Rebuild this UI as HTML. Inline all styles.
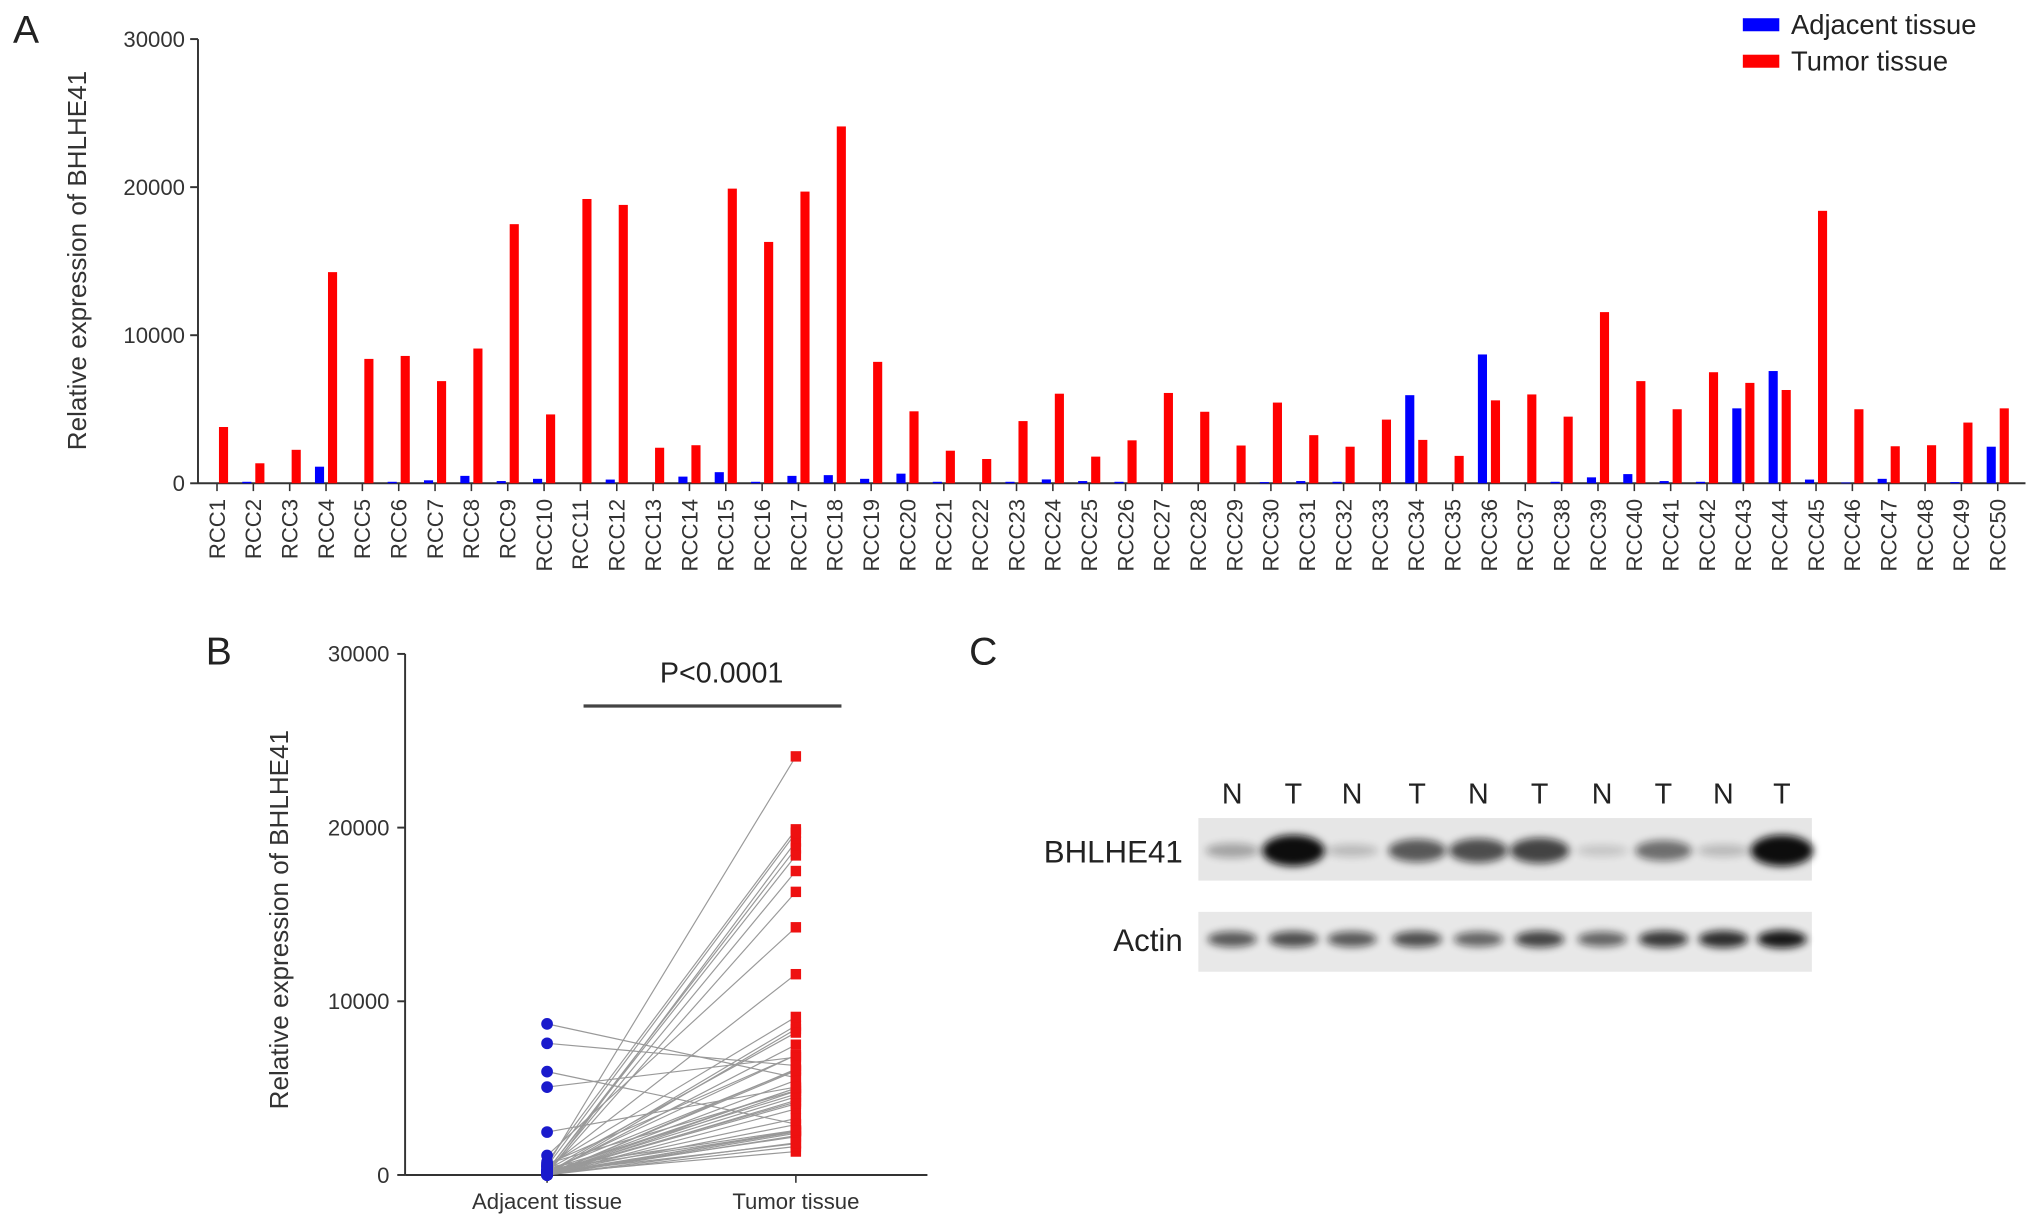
<!DOCTYPE html>
<html><head><meta charset="utf-8">
<style>
html,body{margin:0;padding:0;background:#fff;}
svg{display:block;font-family:"Liberation Sans",Arial,sans-serif;}
</style></head>
<body>
<svg id="fig" width="2032" height="1222" viewBox="0 0 1560 938.1" preserveAspectRatio="none" xmlns="http://www.w3.org/2000/svg">
<defs>
<filter id="blur" x="-50%" y="-100%" width="200%" height="300%"><feGaussianBlur stdDeviation="3"/></filter>
</defs>
<text x="10" y="33" font-size="30" fill="#222">A</text>
<text x="158" y="510" font-size="30" fill="#222">B</text>
<text x="744" y="510" font-size="30" fill="#222">C</text>
<g id="panelA"></g>
<g id="legend">
  <rect x="1338" y="14" width="28" height="10" fill="#0000ff"/>
  <text x="1375" y="26" font-size="21" fill="#222">Adjacent tissue</text>
  <rect x="1338" y="42" width="28" height="10" fill="#ff0000"/>
  <text x="1375" y="54" font-size="21" fill="#222">Tumor tissue</text>
</g>
<g id="panelB"></g>
<g id="panelC"></g>
</svg>
<script>
const categories = [];
for (let i = 1; i <= 50; i++) categories.push('RCC' + i);
const adjacentValues = [0,100,0,1120,0,100,200,500,150,300,0,250,0,450,750,100,500,550,300,650,100,0,100,
  260,150,100,0,0,0,80,150,100,0,5950,0,8700,0,100,400,620,150,100,5060,7580,250,50,300,0,80,2470];
const tumorValues = [3800,1350,2260,14260,8400,8600,6900,9100,17500,4650,19200,18800,2400,2570,19900,16300,19700,24100,8200,4860,2200,1640,4200,
  6050,1800,2900,6100,4830,2550,5450,3250,2470,4300,2930,1850,5600,6000,4500,11560,6900,5000,7500,6780,6300,18400,5000,2500,2570,4100,5060];
const yTicks = [0,10000,20000,30000];
const groupLabels = ['Adjacent tissue','Tumor tissue'];
const blotLanes = ['N','T','N','T','N','T','N','T','N','T'];
const bhlheIntensity = [0.3,1.0,0.2,0.65,0.7,0.75,0.15,0.55,0.2,1.0];
const actinIntensity = [0.65,0.7,0.65,0.7,0.6,0.75,0.6,0.8,0.85,0.95];

const NS = 'http://www.w3.org/2000/svg';
function mk(parent, tag, attrs, text) {
  const e = document.createElementNS(NS, tag);
  for (const k in attrs) e.setAttribute(k, attrs[k]);
  if (text !== undefined) e.textContent = text;
  parent.appendChild(e);
  return e;
}

// ---------- Panel A ----------
const A = document.getElementById('panelA');
const aX0 = 152, aXEnd = 1555, aY0 = 371, aYTop = 30, aMax = 30000;
const aFirst = 166.6, aStep = 27.9;
const ya = v => aY0 - (v / aMax) * (aY0 - aYTop);
const xa = i => aFirst + i * aStep;
let e;
e = mk(A, 'line', {x1: aX0, y1: aYTop, x2: aX0, y2: aY0, stroke: '#333', 'stroke-width': 1.5});


e = mk(A, 'line', {x1: aX0, y1: aY0, x2: aXEnd, y2: aY0, stroke: '#333', 'stroke-width': 1.5});


yTicks.forEach(t => {
  e = mk(A, 'line', {x1: aX0 - 6, y1: ya(t), x2: aX0, y2: ya(t), stroke: '#333', 'stroke-width': 1.5});
  
  
  e = mk(A, 'text', {x: aX0 - 10, y: ya(t) + 6, 'font-size': 17, 'text-anchor': 'end', fill: '#333'}, String(t));
  
  
});
e = mk(A, 'text', {x: 0, y: 0, 'font-size': 20, 'text-anchor': 'middle', fill: '#333', transform: 'translate(66,200) rotate(-90)'}, 'Relative expression of BHLHE41');


categories.forEach((c, i) => {
  const cx = xa(i);
  e = mk(A, 'line', {x1: cx, y1: aY0, x2: cx, y2: aY0 + 6, stroke: '#333', 'stroke-width': 1.2});
  
  
  const hb = aY0 - ya(adjacentValues[i]);
  e = mk(A, 'rect', {x: cx - 8.5, y: aY0 - hb, width: 7, height: hb, fill: '#0000ff'});
  
  
  const hr = aY0 - ya(tumorValues[i]);
  e = mk(A, 'rect', {x: cx + 1.5, y: aY0 - hr, width: 7, height: hr, fill: '#ff0000'});
  
  
  e = mk(A, 'text', {x: 0, y: 0, 'font-size': 17, 'text-anchor': 'end', fill: '#333', transform: 'translate(' + (cx + 6) + ',383) rotate(-90)'}, c);
  
  
});

// ---------- Panel B ----------
const B = document.getElementById('panelB');
const bX0 = 311, bXEnd = 712, bY0 = 902, bYTop = 502;
const yb = v => bY0 - (v / aMax) * (bY0 - bYTop);
const groupX = [420, 611];
e = mk(B, 'line', {x1: bX0, y1: bYTop, x2: bX0, y2: bY0, stroke: '#333', 'stroke-width': 1.5});


e = mk(B, 'line', {x1: bX0, y1: bY0, x2: bXEnd, y2: bY0, stroke: '#333', 'stroke-width': 1.5});


yTicks.forEach(t => {
  e = mk(B, 'line', {x1: bX0 - 6, y1: yb(t), x2: bX0, y2: yb(t), stroke: '#333', 'stroke-width': 1.5});
  
  
  e = mk(B, 'text', {x: bX0 - 12, y: yb(t) + 6, 'font-size': 17, 'text-anchor': 'end', fill: '#333'}, String(t));
  
  
});
e = mk(B, 'text', {x: 0, y: 0, 'font-size': 20, 'text-anchor': 'middle', fill: '#333', transform: 'translate(221,706) rotate(-90)'}, 'Relative expression of BHLHE41');


groupLabels.forEach((g, i) => {
  e = mk(B, 'line', {x1: groupX[i], y1: bY0, x2: groupX[i], y2: bY0 + 6, stroke: '#333', 'stroke-width': 1.2});
  
  
  e = mk(B, 'text', {x: groupX[i], y: 928, 'font-size': 17, 'text-anchor': 'middle', fill: '#333'}, g);
  
  
});
categories.forEach((c, i) => {
  e = mk(B, 'line', {x1: groupX[0], y1: yb(adjacentValues[i]), x2: groupX[1], y2: yb(tumorValues[i]), stroke: '#999', 'stroke-width': 0.9});
  
  
});
categories.forEach((c, i) => {
  e = mk(B, 'circle', {cx: groupX[0], cy: yb(adjacentValues[i]), r: 4.5, fill: '#1a1acc'});
  
  
  e = mk(B, 'rect', {x: groupX[1] - 4, y: yb(tumorValues[i]) - 4, width: 8, height: 8, fill: '#ee1111'});
  
  
});
e = mk(B, 'line', {x1: 448, y1: 542, x2: 646, y2: 542, stroke: '#444', 'stroke-width': 2.5});


e = mk(B, 'text', {x: 554, y: 524, 'font-size': 22, 'text-anchor': 'middle', fill: '#222'}, 'P<0.0001');



// ---------- Panel C ----------
const C = document.getElementById('panelC');
const laneX = [946, 993, 1038, 1088, 1135, 1182, 1230, 1277, 1323, 1368];
e = mk(C, 'rect', {x: 920, y: 628, width: 471, height: 48, fill: '#e6e6e6'});


e = mk(C, 'rect', {x: 920, y: 700, width: 471, height: 46, fill: '#e8e8e8'});


blotLanes.forEach((l, i) => {
  e = mk(C, 'text', {x: laneX[i], y: 617, 'font-size': 22, 'text-anchor': 'middle', fill: '#222'}, l);
  
  
  const v = bhlheIntensity[i];
  e = mk(C, 'ellipse', {cx: laneX[i], cy: 653, rx: 19 + 5 * v, ry: 3 + 9 * v, fill: '#111', opacity: v, filter: 'url(#blur)'});
  
  
  const a = actinIntensity[i];
  e = mk(C, 'ellipse', {cx: laneX[i], cy: 721, rx: 19, ry: 4 + 3 * a, fill: '#111', opacity: a, filter: 'url(#blur)'});
  
  
});
e = mk(C, 'text', {x: 908, y: 662, 'font-size': 24, 'text-anchor': 'end', fill: '#222'}, 'BHLHE41');


e = mk(C, 'text', {x: 908, y: 730, 'font-size': 24, 'text-anchor': 'end', fill: '#222'}, 'Actin');


</script>
</body></html>
